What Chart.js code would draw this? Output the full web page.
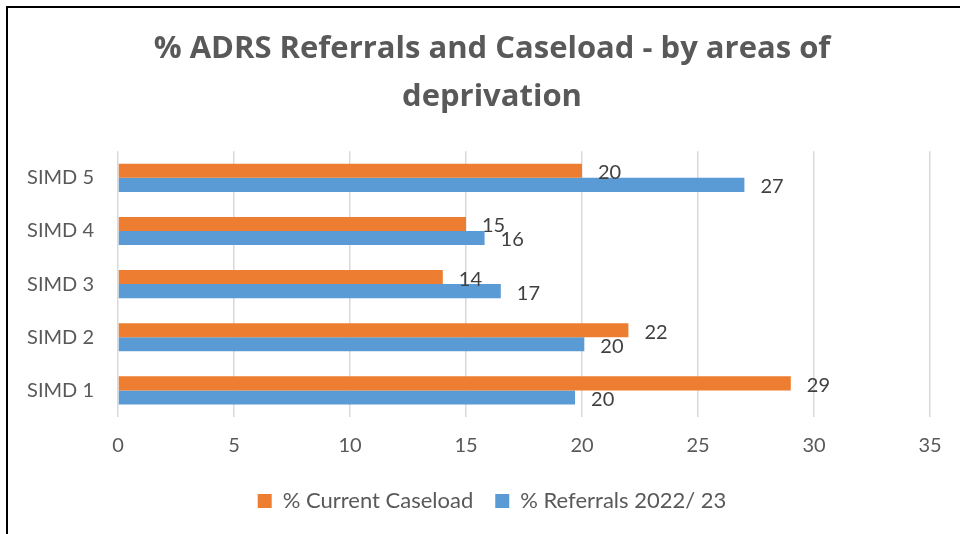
<!DOCTYPE html>
<html>
<head>
<meta charset="utf-8">
<script src="https://cdn.jsdelivr.net/npm/chart.js@4.4.1/dist/chart.umd.min.js"></script>
<style>
    html, body { margin: 0; padding: 0; background: #fff; }
    #frame {
        position: absolute;
        left: 6px;
        top: 6px;
        width: 954px;
        height: 528px;
        border-left: 2px solid #000;
        border-top: 2px solid #000;
        background: #fff;
    }
    #chart-box { position: relative; width: 952px; height: 526px; }
</style>
</head>
<body>
<div id="frame">
    <div id="chart-box"><canvas id="simdChart"></canvas></div>
</div>
<script>
const categories = ['SIMD 5', 'SIMD 4', 'SIMD 3', 'SIMD 2', 'SIMD 1'];
const caseload = [20, 15, 14, 22, 29];
const referrals = [27.0, 15.8, 16.5, 20.1, 19.7];
const xTicks = [0, 5, 10, 15, 20, 25, 30, 35];

const seriesNames = ['% Current Caseload', '% Referrals 2022/ 23'];
const orange = '#ED7D31';
const blue = '#5B9BD5';
const textGrey = '#595959';

// value labels at the end of each bar (Excel style)
const barLabels = {
    id: 'barLabels',
    afterDatasetsDraw(chart) {
        const ctx = chart.ctx;
        ctx.save();
        ctx.font = '20px Lato';
        ctx.fillStyle = '#404040';
        ctx.textAlign = 'left';
        ctx.textBaseline = 'middle';
        chart.data.datasets.forEach((ds, i) => {
            const meta = chart.getDatasetMeta(i);
            meta.data.forEach((bar, j) => {
                ctx.fillText(Math.round(ds.data[j]), bar.x + 16, bar.y + 2);
            });
        });
        ctx.restore();
    }
};

window.onload = function() {
    const ctx = document.getElementById('simdChart').getContext('2d');

    new Chart(ctx, {
        type: 'bar',
        data: {
            labels: categories,
            datasets: [
                {
                    label: seriesNames[0],
                    data: caseload,
                    backgroundColor: orange,
                    barPercentage: 1,
                    categoryPercentage: 0.53
                },
                {
                    label: seriesNames[1],
                    data: referrals,
                    backgroundColor: blue,
                    barPercentage: 1,
                    categoryPercentage: 0.53
                }
            ]
        },
        options: {
            indexAxis: 'y',
            responsive: true,
            maintainAspectRatio: false,
            animation: false,
            layout: {
                padding: { left: 16, right: 0, top: 0, bottom: 12 }
            },
            scales: {
                x: {
                    min: 0,
                    max: 35,
                    afterBuildTicks: (scale) => {
                        scale.ticks = xTicks.map(v => ({ value: v }));
                    },
                    grid: { color: '#d9d9d9', lineWidth: 1.5, drawTicks: false },
                    border: { display: false },
                    ticks: {
                        color: textGrey,
                        font: { family: 'Lato', size: 20 },
                        padding: 17
                    },
                    afterFit: (scale) => {
                        scale.height = 51;
                        scale.paddingRight = 30;
                    }
                },
                y: {
                    grid: { display: false, drawTicks: false },
                    border: { display: false },
                    ticks: {
                        color: textGrey,
                        font: { family: 'Lato', size: 20 },
                        padding: 24
                    },
                    afterFit: (scale) => { scale.width = 94; }
                }
            },
            plugins: {
                title: {
                    display: true,
                    text: ['% ADRS Referrals and Caseload - by areas of', 'deprivation'],
                    color: textGrey,
                    font: { family: 'Open Sans', size: 31, weight: 'bold', lineHeight: 1.52 },
                    padding: { top: 18, bottom: 31 }
                },
                legend: {
                    position: 'bottom',
                    labels: {
                        color: textGrey,
                        font: { family: 'Lato', size: 22 },
                        boxWidth: 14,
                        boxHeight: 14,
                        padding: 22
                    }
                },
                tooltip: { enabled: false }
            }
        },
        plugins: [barLabels]
    });
};
</script>
</body>
</html>
